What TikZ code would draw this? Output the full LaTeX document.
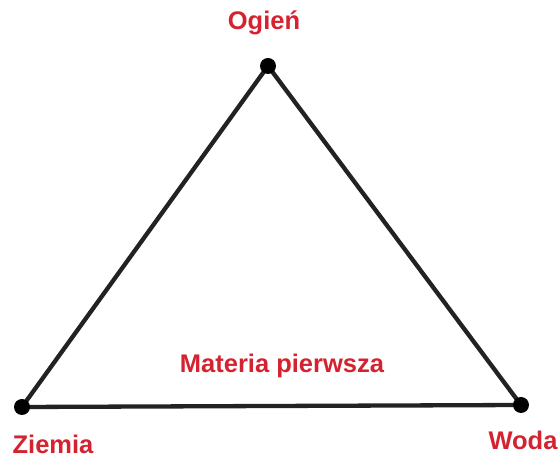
\documentclass[tikz,border=0pt]{standalone}
\usepackage{fontspec}
\setmainfont{Liberation Sans}
\definecolor{lbl}{RGB}{212,34,48}
\definecolor{edge}{RGB}{34,34,34}
\begin{document}
\begin{tikzpicture}[x=1pt,y=1pt,
  vert/.style={circle,fill=black,inner sep=0pt,minimum size=16pt},
  side/.style={draw=edge,line width=4.3pt,line join=round},
  lab/.style={text=lbl,font=\fontsize{25.5}{30}\selectfont\bfseries,anchor=base,inner sep=0pt}]
\useasboundingbox (0,0) rectangle (558,458);
\coordinate (O) at (268,392);
\coordinate (Z) at (22,51);
\coordinate (W) at (521,53);
\draw[side] (O) -- (W) -- (Z) -- cycle;
\node[vert] (o) at (O) {};
\node[vert] (z) at (Z) {};
\node[vert] (w) at (W) {};
\node[lab] (lo) at (264,428) {Ogień};
\node[lab] (lz) at (53,4) {Ziemia};
\node[lab] (lw) at (523,8) {Woda};
\node[lab] (lm) at (282,85) {Materia pierwsza};
\end{tikzpicture}
\end{document}
